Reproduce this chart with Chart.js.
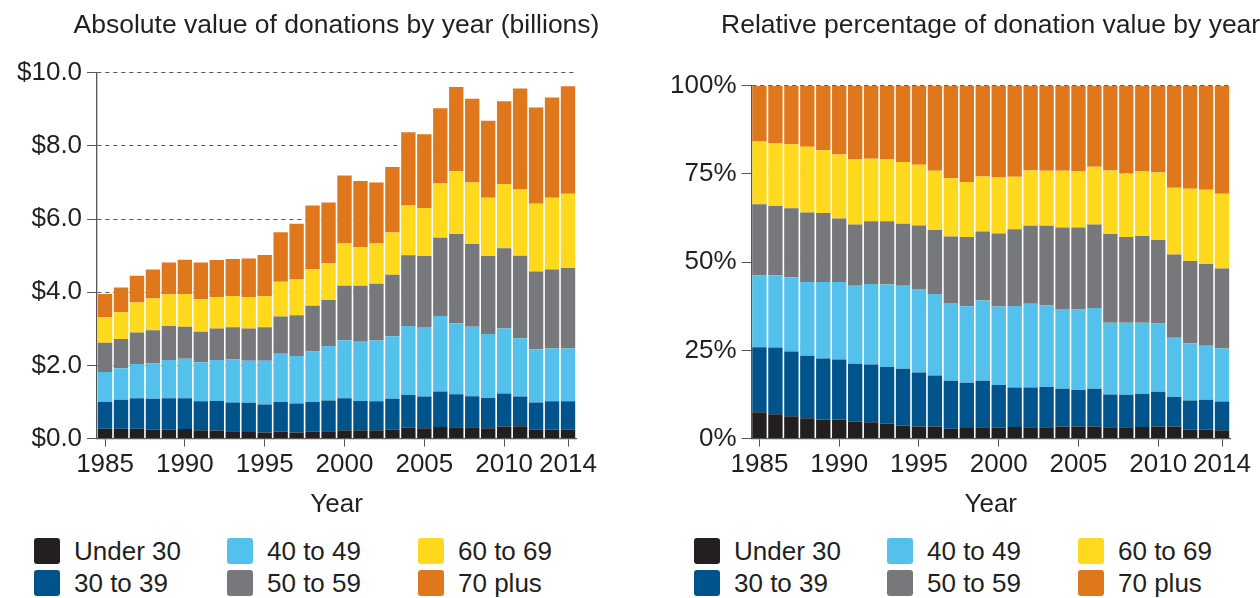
<!DOCTYPE html>
<html>
<head>
<meta charset="utf-8">
<script src="https://cdn.jsdelivr.net/npm/chart.js@4.4.1/dist/chart.umd.min.js"></script>
<style>
  html, body { margin: 0; padding: 0; overflow: hidden; background: #fff; }
  body { position: relative; width: 1260px; height: 598px; font-family: "Liberation Sans", Arial, sans-serif; color: #231f20; }
  #wrapAbs { position: absolute; left: 0; top: 0; width: 630px; height: 520px; }
  #wrapRel { position: absolute; left: 630px; top: 0; width: 630px; height: 520px; }
  .chart-title { position: absolute; top: 8px; font-size: 26.5px; line-height: 32px; white-space: nowrap; }
  #titleAbs { left: 0; width: 673px; text-align: center; }
  #titleRel { left: 721px; }
  .legend-item { position: absolute; height: 26px; display: flex; align-items: center; font-size: 26px; white-space: nowrap; }
  .legend-item .sw { width: 26px; height: 26px; border-radius: 3px; margin-right: 14px; flex: none; }
</style>
</head>
<body>
<div id="wrapAbs"><canvas id="absChart"></canvas></div>
<div id="wrapRel"><canvas id="relChart"></canvas></div>
<div class="chart-title" id="titleAbs">Absolute value of donations by year (billions)</div>
<div class="chart-title" id="titleRel">Relative percentage of donation value by year</div>
<div id="legends"></div>
<script>
// ---- data ----
const years = ['1985','1986','1987','1988','1989','1990','1991','1992','1993','1994',
  '1995','1996','1997','1998','1999','2000','2001','2002','2003','2004',
  '2005','2006','2007','2008','2009','2010','2011','2012','2013','2014'];
const shownYears = ['1985','1990','1995','2000','2005','2010','2014'];

const ageGroups = ['Under 30', '30 to 39', '40 to 49', '50 to 59', '60 to 69', '70 plus'];
const groupColors = ['#231f20', '#00548b', '#53c1ec', '#77787b', '#fed91d', '#df771d'];

// absolute value, billions
const under30Abs = [0.27,0.27,0.27,0.25,0.25,0.26,0.23,0.22,0.20,0.18,0.17,0.19,0.17,0.19,0.20,0.23,0.23,0.23,0.24,0.30,0.28,0.32,0.31,0.31,0.28,0.33,0.34,0.24,0.25,0.24];
const age30Abs = [0.74,0.79,0.83,0.84,0.85,0.84,0.79,0.81,0.79,0.80,0.76,0.81,0.79,0.81,0.84,0.87,0.80,0.79,0.85,0.89,0.87,0.97,0.90,0.85,0.83,0.90,0.81,0.75,0.77,0.78];
const age40Abs = [0.81,0.86,0.94,0.96,1.05,1.08,1.07,1.12,1.17,1.15,1.20,1.32,1.30,1.38,1.49,1.59,1.62,1.66,1.71,1.89,1.90,2.06,1.94,1.90,1.75,1.78,1.59,1.45,1.44,1.44];
const age50Abs = [0.80,0.80,0.86,0.91,0.93,0.88,0.83,0.86,0.88,0.88,0.91,1.02,1.11,1.25,1.26,1.49,1.53,1.55,1.68,1.93,1.94,2.14,2.44,2.26,2.13,2.19,2.26,2.13,2.16,2.20];
const age60Abs = [0.70,0.73,0.82,0.87,0.86,0.89,0.89,0.86,0.86,0.85,0.85,0.95,0.98,1.00,1.01,1.15,1.05,1.10,1.15,1.36,1.31,1.48,1.72,1.68,1.59,1.76,1.81,1.85,1.96,2.03];
const age70Abs = [0.63,0.68,0.73,0.79,0.87,0.94,1.00,1.01,1.01,1.06,1.13,1.35,1.52,1.74,1.65,1.86,1.81,1.67,1.79,2.00,2.02,2.06,2.30,2.29,2.11,2.26,2.76,2.63,2.74,2.94];

// share of donation value, percent
const under30Pct = [7.5,6.9,6.3,5.8,5.4,5.4,4.8,4.6,4.3,3.7,3.4,3.4,2.8,3.0,3.2,3.1,3.3,3.2,3.2,3.4,3.4,3.4,3.2,3.2,3.3,3.4,3.4,2.6,2.6,2.4];
const age30Pct = [18.4,18.9,18.4,17.7,17.3,17.0,16.4,16.4,16.0,16.1,15.3,14.5,13.6,12.8,13.2,12.1,11.2,11.3,11.4,10.7,10.4,10.7,9.3,9.2,9.4,9.9,8.4,8.2,8.4,8.1];
const age40Pct = [20.3,20.5,21.0,20.9,21.7,22.0,22.1,22.8,23.4,23.5,23.7,23.1,22.0,21.7,22.7,22.2,23.1,23.7,23.1,22.6,22.8,22.9,20.3,20.4,20.1,19.3,16.8,16.2,15.3,15.0];
const age50Pct = [20.2,19.6,19.6,19.7,19.5,18.0,17.4,17.8,17.9,17.6,18.0,18.1,18.9,19.6,19.6,20.7,21.7,22.1,22.6,23.1,23.2,23.7,25.2,24.3,24.6,23.7,23.6,23.3,23.2,22.7];
const age60Pct = [17.8,17.7,18.1,18.6,17.8,18.1,18.4,17.7,17.5,17.5,17.2,16.8,16.5,15.6,15.6,15.9,14.9,15.7,15.6,16.1,15.9,16.3,18.0,18.1,18.3,19.1,18.9,20.5,21.0,21.2];
const age70Pct = [15.8,16.4,16.6,17.3,18.3,19.5,20.9,20.7,20.9,21.6,22.4,24.1,26.2,27.3,25.7,26.0,25.8,24.0,24.1,24.1,24.3,23.0,24.0,24.8,24.3,24.6,28.9,29.2,29.5,30.6];

const absSeries = [under30Abs, age30Abs, age40Abs, age50Abs, age60Abs, age70Abs];
const pctSeries = [under30Pct, age30Pct, age40Pct, age50Pct, age60Pct, age70Pct];

// ---- shared style ----
const textColor = '#231f20';
const axisColor = '#555555';
Chart.defaults.font.family = '"Liberation Sans", Arial, sans-serif';
Chart.defaults.font.size = 26;
Chart.defaults.color = textColor;

function makeDatasets(series) {
  return series.map((vals, i) => ({
    label: ageGroups[i],
    data: vals,
    backgroundColor: groupColors[i],
    borderWidth: 0,
    barPercentage: 0.9,
    categoryPercentage: 1.0
  }));
}

function makeOptions(pad, yMax, yStep, yFmt) {
  return {
    responsive: true,
    maintainAspectRatio: false,
    animation: false,
    layout: { padding: pad },
    plugins: {
      legend: { display: false },
      tooltip: { enabled: false },
      title: { display: false }
    },
    scales: {
      x: {
        stacked: true,
        offset: true,
        grid: {
          display: true,
          offset: false,
          drawOnChartArea: false,
          tickLength: 8,
          tickColor: c => shownYears.includes(years[c.index]) ? axisColor : 'rgba(0,0,0,0)'
        },
        border: { display: true, color: axisColor, width: 1.3 },
        ticks: {
          autoSkip: false,
          maxRotation: 0,
          padding: 3,
          color: textColor,
          callback: function (v) {
            const y = this.getLabelForValue(v);
            return shownYears.includes(y) ? y : '';
          }
        },
        title: { display: true, text: 'Year', color: textColor, font: { size: 26 }, padding: { top: 5, bottom: 0 } }
      },
      y: {
        stacked: true,
        min: 0,
        max: yMax,
        grid: {
          color: axisColor,
          lineWidth: 1,
          tickLength: 10,
          tickColor: axisColor,
          tickBorderDash: []
        },
        border: { display: true, color: axisColor, width: 1.3, dash: [4, 4] },
        ticks: { stepSize: yStep, padding: 5, color: textColor, callback: yFmt }
      }
    }
  };
}

new Chart(document.getElementById('absChart'), {
  type: 'bar',
  data: { labels: years, datasets: makeDatasets(absSeries) },
  options: makeOptions({ left: 12, right: 54, top: 72.7, bottom: 0 }, 10, 2, v => '$' + v.toFixed(1))
});

new Chart(document.getElementById('relChart'), {
  type: 'bar',
  data: { labels: years, datasets: makeDatasets(pctSeries) },
  options: makeOptions({ left: 35, right: 30, top: 85.7, bottom: 0 }, 100, 25, v => v + '%')
});

// ---- legends (3 columns x 2 rows, column order) ----
const legendHolder = document.getElementById('legends');
[0, 660].forEach(offset => {
  const colX = [34, 227, 418];
  const rowY = [538, 570];
  ageGroups.forEach((name, i) => {
    const item = document.createElement('div');
    item.className = 'legend-item';
    item.style.left = (offset + colX[Math.floor(i / 2)]) + 'px';
    item.style.top = rowY[i % 2] + 'px';
    item.innerHTML = '<span class="sw" style="background:' + groupColors[i] + '"></span>' + name;
    legendHolder.appendChild(item);
  });
});
</script>
</body>
</html>
